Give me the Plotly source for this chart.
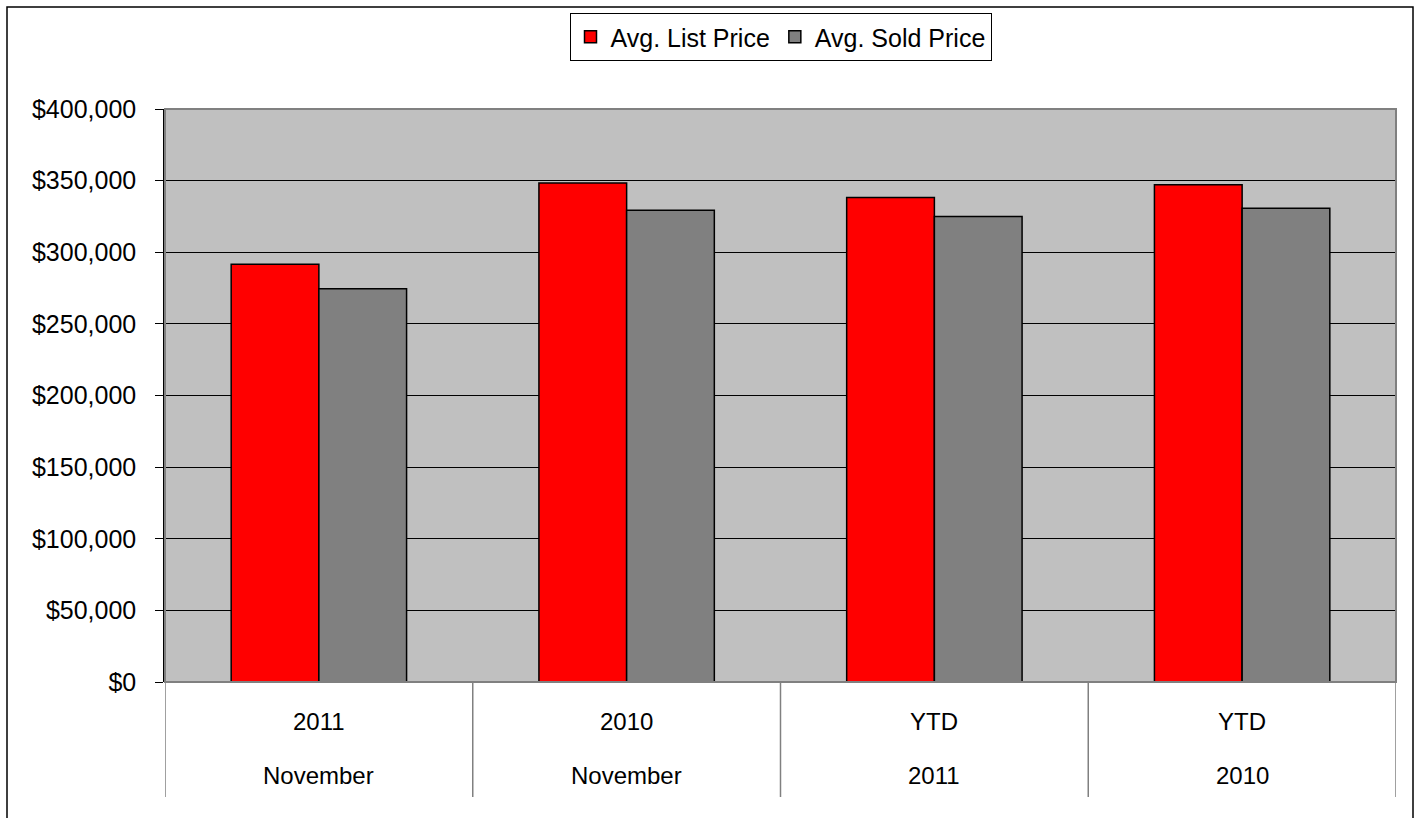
import plotly.graph_objects as go

categories = ["2011 November", "2010 November", "YTD 2011", "YTD 2010"]
top_labels = ["2011", "2010", "YTD", "YTD"]
bottom_labels = ["November", "November", "2011", "2010"]
list_price = [291600, 348300, 338300, 347100]
sold_price = [274600, 329400, 325000, 330800]
y_ticks = [0, 50000, 100000, 150000, 200000, 250000, 300000, 350000, 400000]
y_tick_text = ["$0", "$50,000", "$100,000", "$150,000", "$200,000", "$250,000",
               "$300,000", "$350,000", "$400,000"]

W, H = 1417, 818
L, R, T, B = 165, 21, 109, 136
pw, ph = W - L - R, H - T - B

def px_x(x):
    return (x - L) / pw

def px_y(y):
    return (H - B - y) / ph

fig = go.Figure()
fig.add_trace(go.Bar(x=categories, y=list_price, name="Avg. List Price",
                     marker=dict(color="#FF0000", line=dict(color="#000000", width=1.5))))
fig.add_trace(go.Bar(x=categories, y=sold_price, name="Avg. Sold Price",
                     marker=dict(color="#808080", line=dict(color="#000000", width=1.5))))

font = "Liberation Sans, Arial, sans-serif"
FS = 24

annotations = []
shapes = []
for i, c in enumerate(categories):
    annotations.append(dict(x=c, xref="x", y=px_y(721), yref="paper", yanchor="middle",
                            text=top_labels[i], showarrow=False,
                            font=dict(size=FS, color="#000", family=font)))
    annotations.append(dict(x=c, xref="x", y=px_y(775), yref="paper", yanchor="middle",
                            text=bottom_labels[i], showarrow=False,
                            font=dict(size=FS, color="#000", family=font)))
for k in range(len(categories) + 1):
    shapes.append(dict(type="line", xref="x", yref="paper", x0=k - 0.5, x1=k - 0.5,
                       y0=0, y1=px_y(797), line=dict(color="#808080", width=1.5)))

# outer frame
shapes.append(dict(type="rect", xref="paper", yref="paper",
                   x0=px_x(7), x1=px_x(1413), y0=px_y(7), y1=px_y(830),
                   line=dict(color="#000000", width=1.5), layer="below"))
# plot area border
shapes.append(dict(type="rect", xref="paper", yref="paper", x0=0, x1=1, y0=0, y1=1,
                   line=dict(color="#808080", width=2)))

fig.update_layout(
    width=W, height=H,
    margin=dict(l=L, r=R, t=T, b=B),
    paper_bgcolor="#FFFFFF",
    plot_bgcolor="#C0C0C0",
    barmode="group",
    bargap=0.43,
    bargroupgap=0,
    font=dict(family=font, size=FS, color="#000000"),
    showlegend=True,
    legend=dict(orientation="h", x=0.5, xanchor="center", y=px_y(13), yanchor="top",
                bordercolor="#000000", borderwidth=1, bgcolor="#FFFFFF",
                font=dict(size=25, family=font), itemwidth=30, tracegroupgap=0),
    xaxis=dict(type="category", showticklabels=False, ticks="", showgrid=False,
               showline=False, zeroline=False, range=[-0.5, 3.5], fixedrange=True),
    yaxis=dict(range=[0, 400000], tickvals=y_ticks, ticktext=y_tick_text,
               showgrid=True, gridcolor="#000000", gridwidth=1, zeroline=False,
               showline=True, linecolor="#000000", linewidth=1.5,
               ticks="outside", ticklen=8, tickcolor="#000000", ticklabelstandoff=14,
               tickfont=dict(size=25, family=font), fixedrange=True),
    annotations=annotations,
    shapes=shapes,
)

fig.write_html("out.html", config={"displayModeBar": False},
               post_script="document.body.style.margin='0';document.body.style.overflow='hidden';")
